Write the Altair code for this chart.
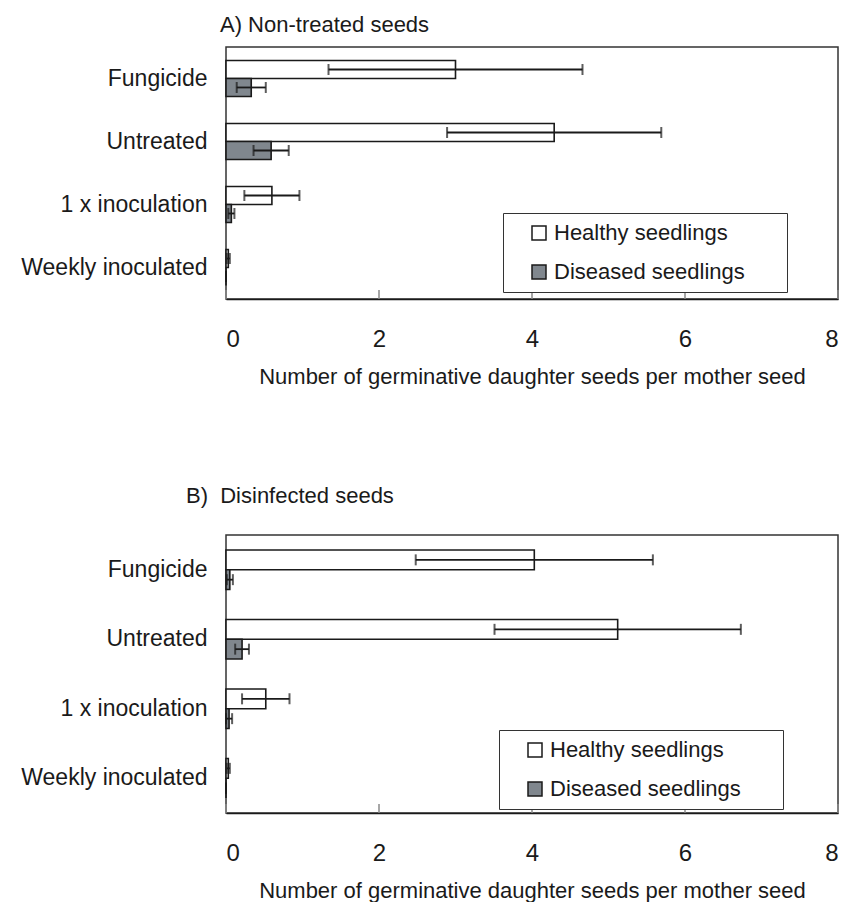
import altair as alt
import pandas as pd

categories = ["Fungicide", "Untreated", "1 x inoculation", "Weekly inoculated"]
series_names = ["Healthy seedlings", "Diseased seedlings"]
x_ticks = [0, 2, 4, 6, 8]

# Panel A: non-treated seeds
a_healthy = [3.00, 4.29, 0.60, 0.03]
a_healthy_err = [1.66, 1.40, 0.36, 0.02]
a_diseased = [0.33, 0.59, 0.07, 0.00]
a_diseased_err = [0.19, 0.23, 0.04, 0.00]

# Panel B: disinfected seeds
b_healthy = [4.03, 5.12, 0.52, 0.03]
b_healthy_err = [1.55, 1.61, 0.31, 0.02]
b_diseased = [0.05, 0.21, 0.04, 0.00]
b_diseased_err = [0.04, 0.09, 0.04, 0.00]

FONT = "Liberation Sans"
INK = "#1a1a1a"
X_TITLE = "Number of germinative daughter seeds per mother seed"


def make_df(healthy, healthy_err, diseased, diseased_err):
    rows = []
    for i, c in enumerate(categories):
        for s, v, e in ((series_names[0], healthy[i], healthy_err[i]),
                        (series_names[1], diseased[i], diseased_err[i])):
            rows.append({"category": c, "series": s, "value": v,
                         "lo": max(v - e, 0), "hi": v + e})
    return pd.DataFrame(rows)


def panel(df, title_text, h, title_dx, title_offset, leg_x, leg_y):
    base = alt.Chart(df)
    y = alt.Y("category:N", sort=categories,
              scale=alt.Scale(paddingInner=0.43, paddingOuter=0.215),
              axis=alt.Axis(title=None, ticks=False, domain=False,
                            labelFontSize=23, labelPadding=19, labelLimit=400,
                            labelColor=INK, labelFont=FONT))
    yoff = alt.YOffset("series:N", sort=series_names,
                       scale=alt.Scale(domain=series_names, paddingInner=0, paddingOuter=0))
    x = alt.X("value:Q", scale=alt.Scale(domain=[0, 8], nice=False),
              axis=alt.Axis(values=x_ticks, format="d", title=X_TITLE, grid=False,
                            ticks=False, domainColor=INK, domainWidth=1.5,
                            labelFontSize=24, labelPadding=28, labelColor=INK,
                            labelFont=FONT, titleFont=FONT, titleFontSize=22,
                            titleFontWeight="normal", titlePadding=15, titleColor=INK))
    bars = base.mark_bar(stroke=INK, strokeWidth=1.6).encode(
        x=x, y=y, yOffset=yoff,
        fill=alt.Fill("series:N", sort=series_names,
                      scale=alt.Scale(domain=series_names, range=["#ffffff", "#80878e"]),
                      legend=alt.Legend(title=" ", titleOrient="right", titlePadding=33,
                                        titleFontSize=2, orient="none",
                                        legendX=leg_x, legendY=leg_y,
                                        labelFontSize=22, labelFont=FONT, labelColor=INK,
                                        labelLimit=400, labelOffset=4,
                                        symbolType="square", symbolSize=196,
                                        symbolStrokeColor=INK, symbolStrokeWidth=1.5,
                                        symbolOffset=16, padding=9, rowPadding=17,
                                        strokeColor="#333", fillColor="#ffffff")),
    )
    rules = base.mark_rule(color=INK, strokeWidth=1.8).encode(
        x="lo:Q", x2="hi:Q", y=y, yOffset=yoff)
    cap_lo = base.mark_tick(color=INK, thickness=2, size=11, orient="vertical").encode(
        x="lo:Q", y=y, yOffset=yoff)
    cap_hi = base.mark_tick(color=INK, thickness=2, size=11, orient="vertical").encode(
        x="hi:Q", y=y, yOffset=yoff)
    inner_ticks = alt.Chart(pd.DataFrame({"t": x_ticks})).mark_rule(
        color="#8a8a8a", strokeWidth=1.5).encode(
        x="t:Q", y=alt.value(h - 9), y2=alt.value(h))
    return alt.layer(bars, rules, cap_lo, cap_hi, inner_ticks).properties(
        width=612, height=h,
        title=alt.TitleParams(title_text, anchor="start", frame="group", fontSize=22,
                              fontWeight="normal", font=FONT, color=INK, dx=title_dx,
                              offset=title_offset, baseline="top"))


df_a = make_df(a_healthy, a_healthy_err, a_diseased, a_diseased_err)
df_b = make_df(b_healthy, b_healthy_err, b_diseased, b_diseased_err)

chart_a = panel(df_a, "A) Non-treated seeds", 252, -6, 10, 277, 166)
chart_b = panel(df_b, "B)\u00a0\u00a0Disinfected seeds", 278, -40, 27, 273, 195)

chart = alt.vconcat(chart_a, chart_b, spacing=96).resolve_scale(
    x="independent", y="independent", yOffset="independent", fill="independent"
).resolve_legend(fill="independent").properties(
    padding={"left": 20, "top": 13, "right": 0, "bottom": 0}
).configure(font=FONT).configure_view(stroke="#333", strokeWidth=1.5)

chart.save("out.html", embed_options={"renderer": "svg", "actions": False})
